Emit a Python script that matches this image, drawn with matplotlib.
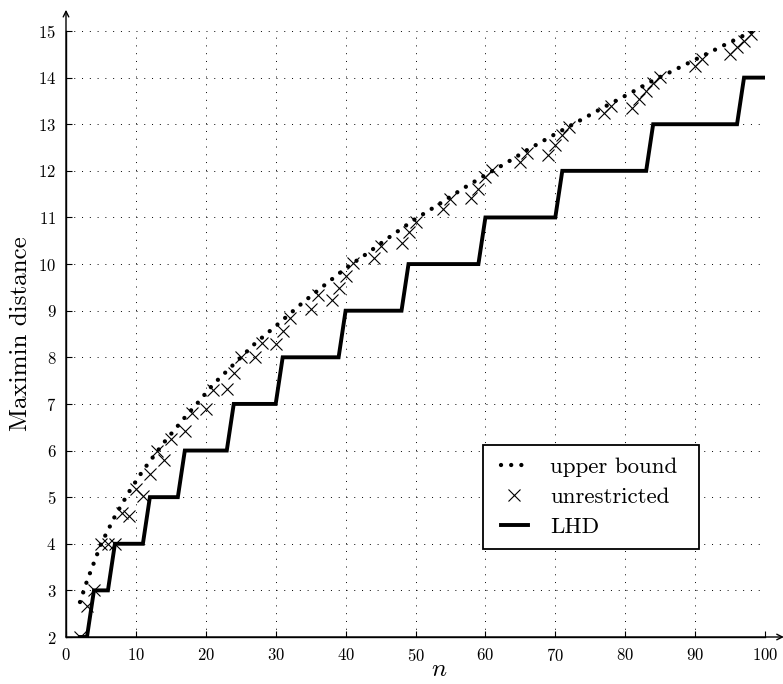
import matplotlib
matplotlib.use("Agg")
import matplotlib.pyplot as plt
from matplotlib.patches import Rectangle
import numpy as np

plt.rcParams['font.family'] = 'serif'
plt.rcParams['font.serif'] = ['cmr10', 'DejaVu Serif']
plt.rcParams['mathtext.fontset'] = 'cm'
plt.rcParams['axes.formatter.use_mathtext'] = True
plt.rcParams['axes.unicode_minus'] = False

# upper bound
bound_n = [2, 3, 5, 7, 9, 11, 14, 17, 19, 21, 24, 27, 30, 34, 37, 40, 43, 46,
           50, 53, 57, 60, 63, 66, 70, 74, 77, 81, 84, 87, 91, 95, 98, 100]
bound_d = [2.75, 3.2, 3.99, 4.59, 5.11, 5.57, 6.17, 6.71, 7.05, 7.41, 7.85, 8.29,
           8.67, 9.19, 9.55, 9.91, 10.22, 10.55, 10.97, 11.25, 11.64, 11.91,
           12.17, 12.45, 12.79, 13.12, 13.37, 13.69, 13.94, 14.16, 14.46, 14.76,
           14.98, 15.12]

# unrestricted designs
unres_n = [2, 3, 4, 5, 6, 7, 8, 9, 10, 11, 12, 13, 14, 15, 17, 18, 20, 21, 23, 24,
           25, 27, 28, 30, 31, 32, 35, 36, 38, 39, 40, 41, 44, 45, 48, 49, 50, 54,
           55, 58, 59, 60, 61, 65, 66, 69, 70, 71, 72, 77, 78, 81, 82, 83, 84, 85,
           90, 91, 95, 96, 97, 98]
unres_d = [2.0, 2.67, 3.0, 4.0, 4.0, 4.0, 4.67, 4.6, 5.17, 5.03, 5.5, 6.0, 5.79,
           6.24, 6.41, 6.81, 6.9, 7.3, 7.31, 7.66, 8.0, 8.0, 8.31, 8.29, 8.56, 8.84,
           9.04, 9.34, 9.24, 9.49, 9.75, 10.03, 10.14, 10.38, 10.45, 10.68, 10.91,
           11.18, 11.39, 11.41, 11.62, 11.86, 12.02, 12.2, 12.38, 12.34, 12.56,
           12.77, 12.95, 13.24, 13.39, 13.34, 13.54, 13.71, 13.89, 14.02, 14.25,
           14.41, 14.5, 14.66, 14.79, 14.93]

# LHD: distance level and first n where it is reached
lhd_level = [2, 3, 4, 5, 6, 7, 8, 9, 10, 11, 12, 13, 14]
lhd_start = [2, 4, 7, 12, 17, 24, 31, 40, 49, 60, 71, 84, 97]
lhd_last = 100

lhd_n = np.arange(lhd_start[0], lhd_last + 1)
lhd_d = np.repeat(lhd_level, np.diff(lhd_start + [lhd_last + 1]))

fig = plt.figure(figsize=(7.83, 6.84), dpi=100)
ax = fig.add_axes([66/783, 47/684, 699/783, 606/684])

ax.plot(bound_n, bound_d, color='k', lw=3.1, linestyle=(0, (0.01, 2.35)),
        dash_capstyle='round', label='upper bound')
ax.plot(unres_n, unres_d, linestyle='none', marker='x', color='k', ms=8.5, mew=0.8,
        label='unrestricted')
ax.plot(lhd_n, lhd_d, color='k', lw=2.8, solid_joinstyle='miter', label='LHD')

ax.set_xlim(0, 100)
ax.set_ylim(2, 15)
ax.set_xticks(np.arange(0, 101, 10))
ax.set_yticks(np.arange(2, 16, 1))
ax.tick_params(direction='in', length=4, width=0.8, labelsize=12, pad=7)
ax.grid(True, color='k', linestyle=(0, (1, 7)), lw=0.7)
ax.set_axisbelow(True)

for s in ['top', 'right']:
    ax.spines[s].set_visible(False)
for s in ['left', 'bottom']:
    ax.spines[s].set_linewidth(1.0)
ax.annotate('', xy=(1.027, 0), xytext=(0, 0), xycoords='axes fraction',
            arrowprops=dict(arrowstyle='->', lw=1.0, color='k', shrinkA=0, shrinkB=0))
ax.annotate('', xy=(0, 1.035), xytext=(0, 0), xycoords='axes fraction',
            arrowprops=dict(arrowstyle='->', lw=1.0, color='k', shrinkA=0, shrinkB=0))

# x label placed by hand, close to the bottom edge as in the reference
ax.text(0.534, -0.0725, '$n$', transform=ax.transAxes, fontsize=18,
        ha='center', va='bottom')
ax.set_ylabel('Maximin distance', fontsize=18, labelpad=4)

# legend box drawn separately so its padding can follow the reference
ax.add_patch(Rectangle((0.5966, 0.1452), 0.309, 0.1716, transform=ax.transAxes,
                       facecolor='white', edgecolor='k', lw=1.3, zorder=5))
leg = ax.legend(loc='center', bbox_to_anchor=(0.748, 0.231), borderaxespad=0,
                fontsize=16.5, frameon=False, handlelength=1.2, handletextpad=0.95,
                borderpad=0, labelspacing=0.45)
leg.set_zorder(6)

fig.savefig('out.png', dpi=100)
